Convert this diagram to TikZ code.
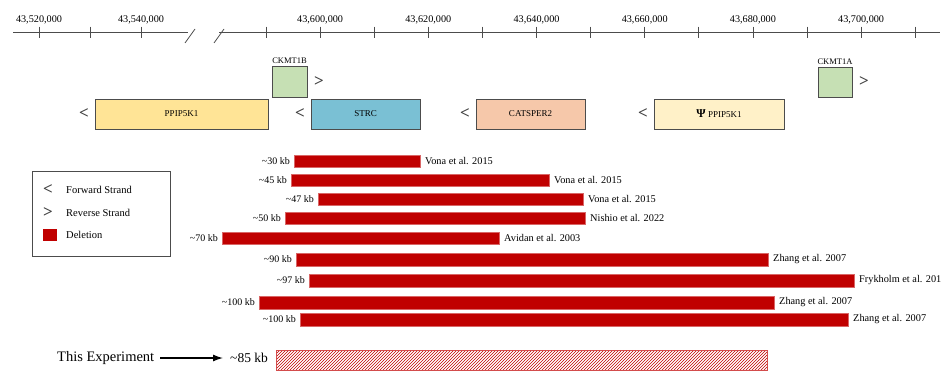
\documentclass[tikz,border=0pt]{standalone}
\usepackage{fontspec}
\setmainfont{Liberation Serif}
\usepackage{tikz}
\usetikzlibrary{arrows.meta}
\usetikzlibrary{positioning, patterns}
\definecolor{delred}{RGB}{192,0,0}
\definecolor{ckgreen}{RGB}{198,224,180}
\definecolor{ppyellow}{RGB}{255,228,150}
\definecolor{strcblue}{RGB}{122,192,212}
\definecolor{catpeach}{RGB}{246,200,170}
\definecolor{psicream}{RGB}{255,241,200}
\colorlet{mygray}{black!70}
\tikzset{
  >=latex, % for default LaTeX arrow head
  axis line/.style={thick,mygray},
  axis label/.style={font=\fontsize{10.2}{11}\selectfont,inner sep=0},
  gene/.style={draw=mygray,thick,inner sep=0,outer sep=0,font=\fontsize{9}{10}\selectfont},
  gene name/.style={font=\fontsize{8.5}{9}\selectfont,inner sep=1},
  strand/.style={font=\fontsize{17}{18}\selectfont\bfseries,inner sep=0,text=black!75},
  del bar/.style={fill=delred,draw=delred!60,inner sep=0,outer sep=0,minimum height=12.5},
  del size/.style={font=\fontsize{10}{11}\selectfont,inner sep=0},
  del src/.style={font=\fontsize{10.3}{11}\selectfont,inner sep=0},
  legend text/.style={font=\fontsize{10.5}{11}\selectfont,inner sep=0,anchor=west}
}

\begin{document}
\begin{tikzpicture}[x=1pt,y=-1pt]
\useasboundingbox (0,0) rectangle (942,372);
%
% position axis with a break
\draw[axis line] (13,32) -- (188,32);
\draw[axis line] (219,32) -- (940,32);
\draw[axis line] (185,43) -- (195,29);
\draw[axis line] (214,43) -- (224,29);
\foreach \X in {39,90,141}
{\draw[axis line] (\X,26.5) -- ++(0,11);}
\foreach \K in {0,...,12}
{\draw[axis line] ({266+\K*54.1},26.5) -- ++(0,11);}
\node[axis label] at (39,20) {43,520,000};
\node[axis label] at (141,20) {43,540,000};
\foreach \K/\Lab in {1/{43,600,000},3/{43,620,000},5/{43,640,000},7/{43,660,000},9/{43,680,000},11/{43,700,000}}
{\node[axis label] at ({266+\K*54.1},20) {\Lab};}
%
% genes
\node[gene,fill=ckgreen,minimum width=35,minimum height=31] (ck1b) at (289.5,81.5) {};
\node[gene name,above=1pt of ck1b] {CKMT1B};
\node[strand,right=7pt of ck1b] {>};
\node[gene,fill=ckgreen,minimum width=34,minimum height=30] (ck1a) at (835,82) {};
\node[gene name,above=1pt of ck1a] {CKMT1A};
\node[strand,right=7pt of ck1a] {>};
\foreach \Lab/\Col/\X/\W [count=\Y] in {PPIP5K1/ppyellow/181.5/173, STRC/strcblue/365.5/109,
  CATSPER2/catpeach/530.5/109, {{\fontsize{12}{12}\selectfont\bfseries Ψ} PPIP5K1}/psicream/719/130}
{
  \node[gene,fill=\Col,minimum width=\W,minimum height=30] (gene-\Y) at (\X,114) {\Lab};
  \node[strand,left=6pt of gene-\Y] {<};
}
%
% legend
\node[draw=mygray,thick,minimum width=138,minimum height=85,inner sep=0] (legend) at (101,213.5) {};
\node[strand] (lg-fwd) at (48,190) {<};
\node[legend text] at (66,190) {Forward Strand};
\node[strand] (lg-rev) at (48,213) {>};
\node[legend text] at (66,213) {Reverse Strand};
\node[fill=delred,minimum width=14,minimum height=12,inner sep=0] (lg-del) at (50,235) {};
\node[legend text] at (66,235) {Deletion};
%
% reported deletions
\foreach \Sz/\Xa/\Xb/\Yc/\Src [count=\Y] in {
  30/294/420/161/{Vona et al. 2015},
  45/291/549/180/{Vona et al. 2015},
  47/318/583/199/{Vona et al. 2015},
  50/285/585/218/{Nishio et al. 2022},
  70/222/499/238/{Avidan et al. 2003},
  90/296/768/259.5/{Zhang et al. 2007},
  97/309/854/280.5/{Frykholm et al. 201},
  100/259/774/302.5/{Zhang et al. 2007},
  100/300/848/319.5/{Zhang et al. 2007}}
{
  \node[del bar,minimum width={\Xb-\Xa}] (del-\Y) at ({(\Xa+\Xb)/2},\Yc) {};
  \node[del size,left=4pt of del-\Y] (size-\Y) {\textasciitilde\Sz\ kb};
  \node[del src,right=5pt of del-\Y] (src-\Y) {\Src};
}
%
% this experiment
\node[font=\fontsize{14.5}{16}\selectfont,inner sep=0,anchor=west] (expt) at (57,358) {This Experiment};
\node[font=\fontsize{13.5}{15}\selectfont,inner sep=0,anchor=west] (kb85) at (230,358) {\textasciitilde85 kb};
\node[pattern=north east lines,pattern color=delred,draw=delred!70,minimum width=491,minimum height=20,inner sep=0] (expbar) at (521.5,360) {};
\draw[-{Latex[length=10,width=7]},line width=1.3pt,shorten <=6pt,shorten >=7pt] (expt.east) -- (expt.east -| kb85.west);
\end{tikzpicture}
\end{document}
